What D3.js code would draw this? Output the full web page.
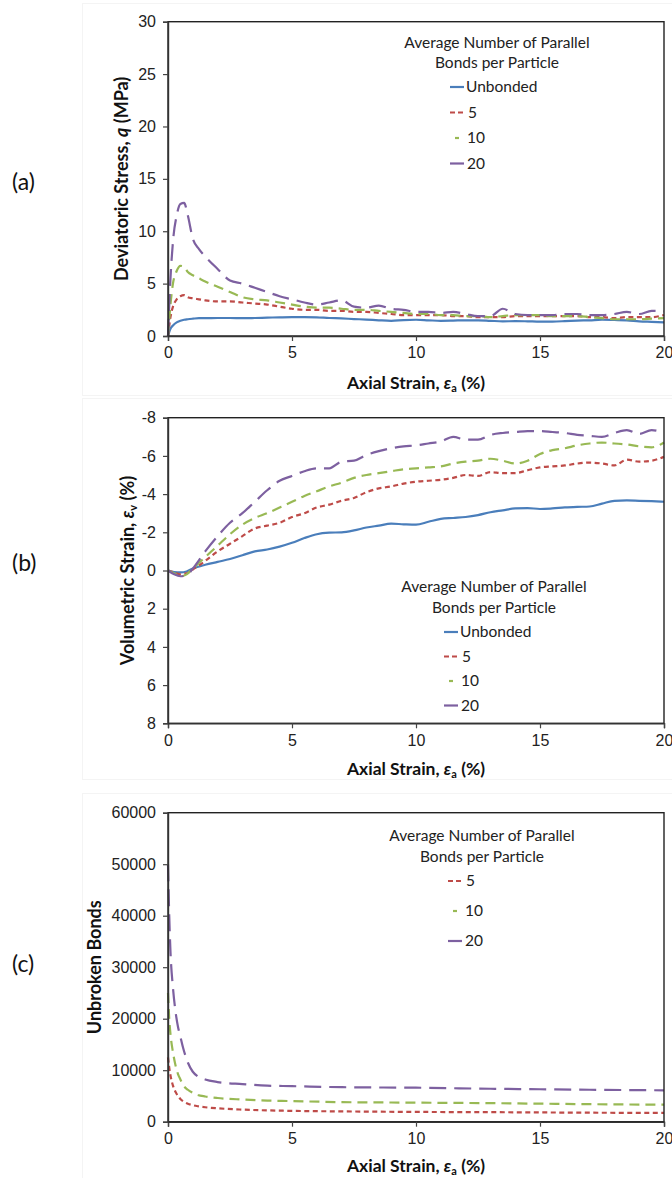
<!DOCTYPE html>
<html>
<head>
<meta charset="utf-8">
<title>Parallel bonds</title>
<style>
  body { margin: 0; background: #fff; }
  svg { display: block; font-family: Lato, "Open Sans", sans-serif; }
  .tick text { font-size: 16px; fill: #222; }
  .tick line { stroke: #444; stroke-width: 1.2; }
  .domain { stroke: #333; stroke-width: 1.4; }
  .xtitle { font-size: 17.5px; font-weight: bold; fill: #111; }
  .ytitle { font-size: 18px; font-weight: bold; fill: #111; }
  .leg text { font-size: 15.5px; fill: #222; }
  .plabel { font-size: 23px; fill: #111; }
</style>
</head>
<body>
<svg width="672" height="1178"></svg>
<script src="https://d3js.org/d3.v7.min.js"></script>
<script>
// ---- data ----
var seriesNames = ["Unbonded", "5", "10", "20"];
var seriesColors = ["#4a7ebb", "#be4b48", "#98b954", "#7d60a0"];
var seriesDash = [null, "5,3.5", "10,6", "17,8"];

var xTicks = [0, 5, 10, 15, 20];
var qTicks = [0, 5, 10, 15, 20, 25, 30];
var evTicks = [-8, -6, -4, -2, 0, 2, 4, 6, 8];
var bondTicks = [0, 10000, 20000, 30000, 40000, 50000, 60000];

// (a) deviatoric stress q (MPa)
var strainA = [0, 0.1, 0.2, 0.35, 0.5, 0.65, 0.8, 1, 1.25, 1.5, 2, 2.5, 3, 3.5, 4, 4.5, 5, 5.5, 6, 6.5, 7, 7.5, 8, 8.5, 9, 9.5, 10, 10.5, 11, 11.5, 12, 12.5, 13, 13.5, 14, 14.5, 15, 15.5, 16, 16.5, 17, 17.5, 18, 18.5, 19, 19.5, 20];
var qUnbonded = [0, 0.7, 1.0, 1.3, 1.45, 1.55, 1.6, 1.65, 1.7, 1.7, 1.72, 1.72, 1.7, 1.72, 1.75, 1.78, 1.8, 1.8, 1.78, 1.72, 1.68, 1.62, 1.57, 1.5, 1.45, 1.52, 1.55, 1.5, 1.45, 1.47, 1.5, 1.5, 1.45, 1.4, 1.42, 1.4, 1.37, 1.38, 1.42, 1.47, 1.5, 1.55, 1.53, 1.5, 1.4, 1.35, 1.3];
var q5 = [0, 1.8, 2.8, 3.5, 3.8, 3.9, 3.7, 3.6, 3.5, 3.4, 3.3, 3.3, 3.2, 3.1, 3.0, 2.8, 2.6, 2.5, 2.5, 2.4, 2.4, 2.3, 2.3, 2.2, 2.1, 2.0, 2.0, 2.0, 2.0, 1.9, 1.9, 1.8, 1.8, 1.8, 1.9, 1.9, 1.9, 1.9, 1.9, 1.9, 1.8, 1.8, 1.7, 1.8, 1.8, 1.8, 2.0];
var q10 = [0, 3, 5, 6.2, 6.7, 6.6, 6.1, 5.8, 5.5, 5.2, 4.7, 4.2, 3.7, 3.5, 3.4, 3.2, 3.0, 2.8, 2.7, 2.7, 2.6, 2.5, 2.5, 2.4, 2.3, 2.2, 2.1, 2.1, 2.0, 2.0, 1.9, 1.9, 1.8, 1.9, 2.0, 2.0, 2.0, 1.9, 1.9, 1.9, 1.8, 1.7, 1.6, 1.6, 1.6, 1.65, 1.7];
var q20 = [0, 5.5, 9, 11.5, 12.6, 12.7, 11.5, 9.3, 8.3, 7.6, 6.4, 5.3, 5.0, 4.6, 4.2, 3.8, 3.5, 3.2, 3.0, 3.2, 3.4, 2.8, 2.7, 2.9, 2.6, 2.5, 2.3, 2.3, 2.2, 2.3, 2.1, 1.9, 1.9, 2.6, 2.1, 2.0, 2.0, 2.0, 2.1, 2.1, 2.0, 2.0, 2.1, 2.3, 2.1, 2.4, 2.35];

// (b) volumetric strain (%)
var strainB = [0, 0.25, 0.5, 0.75, 1, 1.5, 2, 2.5, 3, 3.5, 4, 4.5, 5, 5.5, 6, 6.5, 7, 7.5, 8, 8.5, 9, 9.5, 10, 10.5, 11, 11.5, 12, 12.5, 13, 13.5, 14, 14.5, 15, 15.5, 16, 16.5, 17, 17.5, 18, 18.5, 19, 19.5, 20];
var evUnbonded = [0, 0.08, 0.1, 0.05, -0.1, -0.3, -0.45, -0.6, -0.8, -1.0, -1.1, -1.25, -1.45, -1.7, -1.9, -1.98, -2.0, -2.1, -2.25, -2.35, -2.45, -2.42, -2.4, -2.55, -2.7, -2.75, -2.8, -2.9, -3.05, -3.15, -3.25, -3.27, -3.22, -3.25, -3.3, -3.33, -3.35, -3.5, -3.65, -3.67, -3.65, -3.63, -3.6];
var ev5 = [0, 0.1, 0.2, 0.15, -0.05, -0.5, -1.0, -1.4, -1.8, -2.2, -2.35, -2.5, -2.8, -3.0, -3.3, -3.45, -3.65, -3.8, -4.1, -4.3, -4.4, -4.55, -4.65, -4.7, -4.75, -4.85, -5.0, -4.95, -5.15, -5.1, -5.1, -5.25, -5.4, -5.45, -5.5, -5.6, -5.65, -5.6, -5.5, -5.8, -5.7, -5.75, -5.95];
var ev10 = [0, 0.15, 0.3, 0.2, -0.1, -0.7, -1.3, -1.9, -2.4, -2.75, -3.0, -3.3, -3.6, -3.9, -4.15, -4.4, -4.6, -4.85, -5.0, -5.1, -5.2, -5.3, -5.35, -5.4, -5.45, -5.6, -5.7, -5.75, -5.85, -5.75, -5.6, -5.75, -6.1, -6.3, -6.4, -6.55, -6.65, -6.7, -6.65, -6.6, -6.5, -6.45, -6.7];
var ev20 = [0, 0.2, 0.3, 0.25, -0.1, -1.0, -1.8, -2.5, -3.0, -3.6, -4.2, -4.7, -4.95, -5.2, -5.35, -5.35, -5.7, -5.75, -6.05, -6.25, -6.4, -6.5, -6.55, -6.65, -6.75, -7.0, -6.85, -6.85, -7.1, -7.2, -7.25, -7.3, -7.3, -7.25, -7.2, -7.1, -7.05, -7.0, -7.2, -7.35, -7.15, -7.35, -7.2];

// (c) unbroken bonds
var strainC = [0, 0.05, 0.1, 0.2, 0.3, 0.4, 0.5, 0.6, 0.8, 1, 1.2, 1.5, 2, 3, 4, 5, 7, 10, 13, 15, 17, 20];
var bonds5 = [12500, 10500, 9000, 7000, 5800, 5000, 4400, 4000, 3500, 3200, 3000, 2800, 2600, 2350, 2200, 2100, 2000, 1900, 1850, 1800, 1750, 1700];
var bonds10 = [25000, 20000, 17000, 13500, 11000, 9300, 8200, 7200, 6200, 5600, 5200, 4900, 4600, 4300, 4100, 4000, 3800, 3700, 3600, 3500, 3400, 3300];
var bonds20 = [50000, 40000, 33000, 26000, 21500, 18500, 16500, 14500, 11500, 9700, 8800, 8200, 7700, 7300, 7000, 6900, 6700, 6600, 6400, 6300, 6200, 6100];

var svg = d3.select("svg");
var x = d3.scaleLinear().domain([0, 20]).range([168, 664]);

function zip(xs, ys) {
  return xs.map(function (v, i) { return [v, ys[i]]; });
}

function panel(opt) {
  var y = d3.scaleLinear().domain(opt.domain).range([opt.bottom, opt.top]);
  var g = svg.append("g");

  // faint chart-area frame
  g.append("rect")
    .attr("x", 82.5).attr("y", opt.frame[0] + 0.5)
    .attr("width", 640).attr("height", opt.frame[1] - opt.frame[0])
    .attr("fill", "none").attr("stroke", "#f4f4f4");

  if (opt.zeroLine) {
    g.append("line")
      .attr("x1", x(0)).attr("x2", x(20))
      .attr("y1", y(0)).attr("y2", y(0))
      .attr("stroke", "#8c8c8c").attr("stroke-width", 1.2);
  }

  var line = d3.line()
    .x(function (d) { return x(d[0]); })
    .y(function (d) { return y(d[1]); })
    .curve(d3.curveMonotoneX);

  opt.series.forEach(function (s) {
    g.append("path")
      .datum(zip(opt.xs, s.values))
      .attr("d", line)
      .attr("fill", "none")
      .attr("stroke", seriesColors[s.k])
      .attr("stroke-width", 2.2)
      .attr("stroke-dasharray", seriesDash[s.k]);
  });

  // plot border
  g.append("rect")
    .attr("x", x(0)).attr("y", opt.top)
    .attr("width", x(20) - x(0)).attr("height", opt.bottom - opt.top)
    .attr("fill", "none").attr("stroke", "#222").attr("stroke-width", 1.4);

  g.append("g")
    .attr("transform", "translate(0," + opt.bottom + ")")
    .call(d3.axisBottom(x).tickValues(xTicks).tickSize(5).tickPadding(6).tickFormat(String));

  g.append("g")
    .attr("transform", "translate(" + x(0) + ",0)")
    .call(d3.axisLeft(y).tickValues(opt.ticks).tickSize(5).tickPadding(7).tickFormat(String));

  // axis titles
  var xt = g.append("text").attr("class", "xtitle")
    .attr("x", (x(0) + x(20)) / 2).attr("y", opt.bottom + opt.xtitleDy)
    .attr("text-anchor", "middle");
  xt.append("tspan").text("Axial Strain, ");
  xt.append("tspan").attr("font-style", "italic").text("ε");
  xt.append("tspan").attr("font-size", "11px").attr("dy", 3).text("a");
  xt.append("tspan").attr("dy", -3).text(" (%)");

  var yt = g.append("text").attr("class", "ytitle")
    .attr("transform", "translate(" + opt.ytitleX + "," + (opt.top + opt.bottom) / 2 + ") rotate(-90)")
    .attr("text-anchor", "middle");
  opt.ytitle.forEach(function (p) {
    var t = yt.append("tspan").text(p.t);
    if (p.it) t.attr("font-style", "italic");
    if (p.sub) t.attr("font-size", "11px").attr("dy", 3);
    if (p.up) t.attr("dy", -3);
  });

  g.append("text").attr("class", "plabel")
    .attr("x", 12).attr("y", opt.plabelY).text(opt.plabel);

  // legend
  var leg = g.append("g").attr("class", "leg");
  leg.append("text").attr("x", opt.leg.cx).attr("y", opt.leg.y0)
    .attr("text-anchor", "middle").text("Average Number of Parallel");
  leg.append("text").attr("x", opt.leg.cx).attr("y", opt.leg.y0 + opt.leg.gap1)
    .attr("text-anchor", "middle").text("Bonds per Particle");
  opt.series.forEach(function (s, i) {
    var yy = opt.leg.y1 + i * opt.leg.step;
    leg.append("line")
      .attr("x1", opt.leg.lx).attr("x2", opt.leg.lx + 14)
      .attr("y1", yy - 5).attr("y2", yy - 5)
      .attr("stroke", seriesColors[s.k]).attr("stroke-width", 2.2)
      .attr("stroke-dasharray", s.k === 2 ? "4,20" : (s.k === 1 ? "5,3" : null))
      .attr("stroke-dashoffset", s.k === 2 ? -5 : 0);
    leg.append("text").attr("x", opt.leg.lx + 16 + (s.k === 1 ? 2 : (s.k >= 2 ? 1 : 0)))
      .attr("y", yy).text((s.k === 2 ? " " : "") + seriesNames[s.k]);
  });
}

panel({
  top: 21.7, bottom: 336, domain: [0, 30], ticks: qTicks, xs: strainA,
  frame: [3, 395], xtitleDy: 53,
  series: [{k: 0, values: qUnbonded}, {k: 1, values: q5}, {k: 2, values: q10}, {k: 3, values: q20}],
  ytitleX: 128, plabel: "(a)", plabelY: 190,
  ytitle: [{t: "Deviatoric Stress, "}, {t: "q", it: true}, {t: " (MPa)"}],
  leg: {cx: 497, y0: 48, gap1: 20, y1: 92, step: 25.5, lx: 450}
});

panel({
  top: 417.7, bottom: 723.3, domain: [8, -8], ticks: evTicks, xs: strainB,
  frame: [398, 779], xtitleDy: 52,
  series: [{k: 0, values: evUnbonded}, {k: 1, values: ev5}, {k: 2, values: ev10}, {k: 3, values: ev20}],
  ytitleX: 134, plabel: "(b)", plabelY: 571,
  ytitle: [{t: "Volumetric Strain, "}, {t: "ε", it: true}, {t: "v", sub: true}, {t: " (%)", up: true}],
  leg: {cx: 494, y0: 592, gap1: 21, y1: 637, step: 24.5, lx: 444}
});

panel({
  top: 812.7, bottom: 1121.7, domain: [0, 60000], ticks: bondTicks, xs: strainC,
  frame: [793, 1185], xtitleDy: 50,
  series: [{k: 1, values: bonds5}, {k: 2, values: bonds10}, {k: 3, values: bonds20}],
  ytitleX: 101, plabel: "(c)", plabelY: 972,
  ytitle: [{t: "Unbroken Bonds"}],
  leg: {cx: 482, y0: 841, gap1: 21, y1: 886, step: 30, lx: 448}
});
</script>
</body>
</html>
